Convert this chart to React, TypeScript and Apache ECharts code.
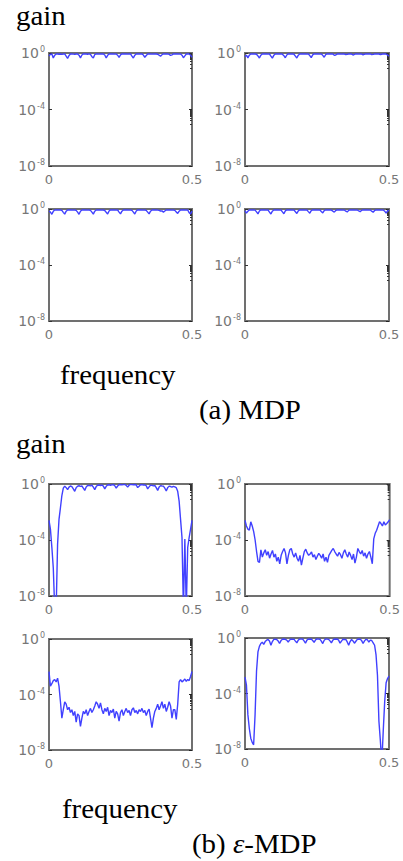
import React, { useEffect, useRef } from 'react';
import * as echarts from 'echarts';

// frequency grid (cycles/sample)
const FREQ = [
  0, 0.005, 0.01, 0.015, 0.02, 0.025, 0.03, 0.035, 0.04, 0.045,
  0.05, 0.055, 0.06, 0.065, 0.07, 0.075, 0.08, 0.085, 0.09, 0.095,
  0.1, 0.105, 0.11, 0.115, 0.12, 0.125, 0.13, 0.135, 0.14, 0.145,
  0.15, 0.155, 0.16, 0.165, 0.17, 0.175, 0.18, 0.185, 0.19, 0.195,
  0.2, 0.205, 0.21, 0.215, 0.22, 0.225, 0.23, 0.235, 0.24, 0.245,
  0.25, 0.255, 0.26, 0.265, 0.27, 0.275, 0.28, 0.285, 0.29, 0.295,
  0.3, 0.305, 0.31, 0.315, 0.32, 0.325, 0.33, 0.335, 0.34, 0.345,
  0.35, 0.355, 0.36, 0.365, 0.37, 0.375, 0.38, 0.385, 0.39, 0.395,
  0.4, 0.405, 0.41, 0.415, 0.42, 0.425, 0.43, 0.435, 0.44, 0.445,
  0.45, 0.455, 0.46, 0.465, 0.47, 0.475, 0.48, 0.485, 0.49, 0.495,
  0.5,
];

// (a) MDP — four panels
const GAIN_A_TL = [
  0.62, 0.8, 0.85, 0.45, 0.7, 0.86, 0.84, 0.82, 0.85, 0.8,
  0.84, 0.86, 0.6, 0.42, 0.66, 0.85, 0.86, 0.83, 0.8, 0.85,
  0.86, 0.7, 0.45, 0.72, 0.86, 0.84, 0.85, 0.82, 0.86, 0.8,
  0.55, 0.45, 0.78, 0.86, 0.85, 0.83, 0.86, 0.84, 0.85, 0.72,
  0.44, 0.68, 0.85, 0.86, 0.84, 0.85, 0.83, 0.86, 0.7, 0.48,
  0.74, 0.86, 0.85, 0.84, 0.86, 0.83, 0.85, 0.86, 0.6, 0.44,
  0.7, 0.85, 0.86, 0.84, 0.85, 0.86, 0.72, 0.5, 0.66, 0.84,
  0.86, 0.85, 0.83, 0.86, 0.84, 0.85, 0.82, 0.7, 0.6, 0.75,
  0.86, 0.84, 0.85, 0.86, 0.8, 0.68, 0.74, 0.86, 0.85, 0.84,
  0.86, 0.83, 0.85, 0.7, 0.46, 0.62, 0.85, 0.86, 0.84, 0.7,
  0.5,
];
const GAIN_A_TR = [
  0.55, 0.7, 0.45, 0.7, 0.85, 0.86, 0.84, 0.85, 0.82, 0.62,
  0.44, 0.7, 0.86, 0.85, 0.84, 0.86, 0.83, 0.85, 0.6, 0.43,
  0.68, 0.85, 0.86, 0.84, 0.85, 0.86, 0.83, 0.65, 0.46, 0.72,
  0.86, 0.85, 0.84, 0.86, 0.82, 0.6, 0.44, 0.7, 0.86, 0.85,
  0.84, 0.86, 0.85, 0.83, 0.86, 0.66, 0.47, 0.74, 0.86, 0.85,
  0.84, 0.86, 0.83, 0.85, 0.68, 0.5, 0.76, 0.86, 0.85, 0.84,
  0.86, 0.85, 0.7, 0.72, 0.84, 0.86, 0.85, 0.83, 0.86, 0.84,
  0.78, 0.8, 0.85, 0.86, 0.84, 0.72, 0.8, 0.86, 0.85, 0.83,
  0.86, 0.84, 0.75, 0.82, 0.86, 0.85, 0.84, 0.86, 0.76, 0.8,
  0.85, 0.86, 0.84, 0.85, 0.78, 0.82, 0.86, 0.85, 0.84, 0.72,
  0.6,
];
const GAIN_A_BL = [
  0.7, 0.6, 0.42, 0.68, 0.86, 0.85, 0.84, 0.86, 0.85, 0.8,
  0.58, 0.43, 0.7, 0.86, 0.85, 0.84, 0.86, 0.83, 0.85, 0.8,
  0.6, 0.42, 0.7, 0.86, 0.85, 0.84, 0.86, 0.83, 0.85, 0.8,
  0.6, 0.43, 0.7, 0.86, 0.85, 0.84, 0.86, 0.83, 0.85, 0.78,
  0.58, 0.44, 0.72, 0.86, 0.85, 0.84, 0.86, 0.83, 0.85, 0.6,
  0.45, 0.7, 0.86, 0.85, 0.84, 0.86, 0.83, 0.85, 0.8, 0.6,
  0.44, 0.72, 0.86, 0.85, 0.84, 0.86, 0.83, 0.85, 0.8, 0.6,
  0.45, 0.7, 0.86, 0.85, 0.84, 0.86, 0.83, 0.8, 0.72, 0.74,
  0.6, 0.72, 0.86, 0.85, 0.84, 0.86, 0.83, 0.85, 0.8, 0.62,
  0.48, 0.7, 0.86, 0.85, 0.84, 0.86, 0.83, 0.85, 0.55, 0.45,
  0.7,
];
const GAIN_A_BR = [
  0.75, 0.5, 0.7, 0.86, 0.85, 0.84, 0.86, 0.83, 0.62, 0.45,
  0.72, 0.86, 0.85, 0.84, 0.86, 0.83, 0.85, 0.6, 0.44, 0.7,
  0.86, 0.85, 0.84, 0.86, 0.83, 0.85, 0.62, 0.46, 0.74, 0.86,
  0.85, 0.84, 0.86, 0.83, 0.85, 0.64, 0.48, 0.74, 0.86, 0.85,
  0.84, 0.86, 0.83, 0.85, 0.65, 0.5, 0.76, 0.86, 0.85, 0.84,
  0.86, 0.83, 0.85, 0.66, 0.52, 0.76, 0.86, 0.85, 0.84, 0.86,
  0.83, 0.7, 0.6, 0.78, 0.86, 0.85, 0.84, 0.86, 0.83, 0.85,
  0.7, 0.62, 0.8, 0.86, 0.85, 0.84, 0.86, 0.83, 0.85, 0.72,
  0.64, 0.8, 0.86, 0.85, 0.84, 0.86, 0.83, 0.85, 0.7, 0.58,
  0.78, 0.86, 0.85, 0.84, 0.86, 0.83, 0.85, 0.7, 0.5, 0.72,
  0.8,
];

// (b) ε-MDP — four panels
const GAIN_B_TL = [
  2.5e-3, 6e-4, 3e-5, 1e-6, 1e-9, 1e-9, 5e-5, 3e-3, 2e-2, 0.15,
  0.5, 0.7, 0.55, 0.4, 0.6, 0.72, 0.65, 0.45, 0.3, 0.55,
  0.7, 0.75, 0.68, 0.72, 0.5, 0.35, 0.62, 0.78, 0.8, 0.74,
  0.82, 0.6, 0.4, 0.65, 0.82, 0.85, 0.78, 0.84, 0.7, 0.45,
  0.68, 0.85, 0.88, 0.82, 0.86, 0.9, 0.75, 0.5, 0.72, 0.88,
  0.92, 0.86, 0.9, 0.92, 0.8, 0.6, 0.82, 0.93, 0.9, 0.88,
  0.92, 0.85, 0.55, 0.7, 0.88, 0.9, 0.84, 0.86, 0.75, 0.45,
  0.62, 0.82, 0.8, 0.74, 0.78, 0.55, 0.35, 0.6, 0.76, 0.72,
  0.7, 0.5, 0.32, 0.55, 0.7, 0.66, 0.6, 0.68, 0.62, 0.55,
  0.3, 0.06, 3e-3, 1.5e-4, 1e-9, 1.2e-4, 1e-9, 3e-5, 1.5e-4, 6e-4,
  2.5e-3,
];
const GAIN_B_TR = [
  2.5e-3, 1e-3, 6e-4, 5e-4, 2e-3, 1e-3, 4e-4, 1e-4, 1.5e-5, 3e-6,
  2.5e-6, 2e-5, 6e-6, 1.2e-5, 2e-5, 8e-6, 1.5e-5, 5e-6, 1e-5, 1.8e-5,
  6e-6, 1e-5, 3e-6, 6e-6, 2e-6, 8e-6, 1.5e-5, 2.5e-5, 1.2e-5, 2e-6,
  8e-6, 2e-5, 2.5e-5, 1e-5, 6e-6, 1.2e-5, 5e-6, 3e-6, 8e-6, 1.6e-6,
  5e-6, 1.5e-5, 2.2e-5, 1.2e-5, 8e-6, 1e-5, 1.4e-5, 6e-6, 9e-6, 4e-6,
  7e-6, 1.1e-5, 8e-6, 5e-6, 1e-5, 3e-6, 6e-6, 2.5e-6, 8e-6, 1.2e-5,
  1.8e-5, 2.5e-5, 1.5e-5, 1e-5, 7e-6, 1.3e-5, 9e-6, 5e-6, 1.2e-5, 2e-5,
  1e-5, 6e-6, 1.4e-5, 8e-6, 4e-6, 1e-5, 2.2e-6, 6e-6, 2.5e-5, 1.5e-5,
  1e-5, 1.8e-5, 7e-6, 1.2e-5, 5e-6, 1e-5, 1.5e-5, 6e-6, 2e-6, 1.2e-4,
  3e-4, 5e-4, 1e-3, 2e-3, 1.5e-3, 1e-3, 2e-3, 1.2e-3, 1.5e-3, 2e-3,
  2.8e-3,
];
const GAIN_B_BL = [
  4.5e-3, 4e-4, 6e-4, 1e-3, 1.2e-3, 8e-4, 1.5e-3, 4e-4, 3e-5, 2e-6,
  8e-6, 3e-5, 2e-5, 8e-6, 1.2e-5, 5e-6, 8e-6, 3e-6, 6e-6, 1e-6,
  4e-6, 3e-6, 5e-7, 2e-6, 6e-6, 4e-6, 8e-6, 3e-6, 6e-6, 1e-5,
  5e-6, 8e-6, 1.5e-5, 3e-5, 2e-5, 1e-5, 2.5e-5, 8e-6, 4e-6, 1e-5,
  6e-6, 1.2e-5, 3e-6, 7e-6, 5e-6, 9e-6, 2e-6, 6e-6, 4e-6, 1.2e-6,
  5e-6, 8e-6, 3e-6, 6e-6, 1e-5, 5e-6, 7e-6, 3e-6, 8e-6, 1.1e-5,
  5e-6, 7e-6, 4e-6, 8e-6, 6e-6, 1e-5, 5e-6, 7e-6, 3e-6, 6e-6,
  9e-6, 2e-6, 4e-7, 2e-6, 6e-6, 1e-5, 2e-5, 8e-6, 1.5e-5, 3e-5,
  1e-5, 2e-5, 6e-6, 1.2e-5, 3e-5, 1.5e-5, 2e-6, 8e-6, 8e-6, 1.6e-6,
  2e-5, 8e-4, 1.2e-3, 8e-4, 1e-3, 1.3e-3, 9e-4, 1.2e-3, 1e-3, 2e-3,
  4.5e-3,
];
const GAIN_B_BR = [
  1.5e-3, 4e-4, 3e-6, 3e-7, 6e-8, 3e-8, 2e-8, 3e-6, 4e-3, 0.1,
  0.25, 0.4, 0.5, 0.35, 0.55, 0.7, 0.78, 0.6, 0.3, 0.55,
  0.8, 0.82, 0.78, 0.62, 0.4, 0.65, 0.82, 0.84, 0.8, 0.7,
  0.5, 0.72, 0.84, 0.8, 0.82, 0.6, 0.45, 0.7, 0.85, 0.83,
  0.84, 0.62, 0.42, 0.7, 0.84, 0.82, 0.85, 0.66, 0.48, 0.74,
  0.85, 0.83, 0.82, 0.6, 0.4, 0.68, 0.84, 0.83, 0.8, 0.62,
  0.45, 0.7, 0.84, 0.82, 0.85, 0.7, 0.42, 0.6, 0.82, 0.78,
  0.8, 0.52, 0.3, 0.55, 0.78, 0.62, 0.42, 0.58, 0.8, 0.84,
  0.82, 0.65, 0.4, 0.62, 0.8, 0.75, 0.5, 0.7, 0.66, 0.45,
  0.3, 0.06, 2e-3, 1e-6, 4e-8, 1e-9, 2e-7, 2.5e-5, 6e-4, 1.2e-3,
  1.8e-3,
];

const PANELS = [
  GAIN_A_TL, GAIN_A_TR, GAIN_A_BL, GAIN_A_BR,
  GAIN_B_TL, GAIN_B_TR, GAIN_B_BL, GAIN_B_BR,
];

const X_TICK_LABELS = ['0', '0.5'];
const Y_MIN = 1e-8;
const Y_MAX = 1;

// layout of the eight plot boxes (px)
const BOXES = [
  { left: 49, top: 53, width: 143, height: 113 },
  { left: 245, top: 53, width: 144, height: 113 },
  { left: 49, top: 209, width: 143, height: 112 },
  { left: 245, top: 209, width: 144, height: 112 },
  { left: 49, top: 484, width: 143, height: 112 },
  { left: 245, top: 484, width: 145, height: 112 },
  { left: 49, top: 639, width: 143, height: 111 },
  { left: 245, top: 638, width: 144, height: 111 },
];

const SERIF = 'Liberation Serif';
const TICK_FONT = 'DejaVu Sans';
const TICK_COLOR = '#777';
const LINE_COLOR = '#4040ff';

export default function App() {
  const ref = useRef<HTMLDivElement>(null);

  useEffect(() => {
    if (!ref.current) return;
    const chart = echarts.init(ref.current, undefined, { renderer: 'svg' });

    const grid = BOXES.map((b) => ({
      ...b,
      show: true,
      borderColor: '#707070',
      borderWidth: 2,
      backgroundColor: 'transparent',
    }));

    const xAxis = BOXES.map((_, i) => ({
      type: 'value',
      gridIndex: i,
      min: 0,
      max: 0.5,
      interval: 0.5,
      axisLine: { show: false },
      axisTick: { show: false },
      splitLine: { show: false },
      axisLabel: {
        show: true,
        margin: 7,
        color: TICK_COLOR,
        fontSize: 13,
        fontFamily: TICK_FONT,
        showMinLabel: true,
        showMaxLabel: true,
        formatter: (v: number) => (v === 0 ? X_TICK_LABELS[0] : X_TICK_LABELS[1]),
      },
    }));

    const yAxis: any[] = [];
    BOXES.forEach((_, i) => {
      yAxis.push({
        type: 'log',
        logBase: 10,
        gridIndex: i,
        min: Y_MIN,
        max: Y_MAX,
        interval: 4,
        position: 'left',
        axisLine: { show: false },
        axisTick: { show: true, inside: true, length: 3, lineStyle: { color: '#333' } },
        splitLine: { show: false },
        axisLabel: {
          margin: 4,
          color: TICK_COLOR,
          fontSize: 14,
          fontFamily: TICK_FONT,
          formatter: (v: number) => '10{s|' + Math.round(Math.log10(v)) + '}',
          rich: {
            s: {
              fontSize: 8,
              color: TICK_COLOR,
              fontFamily: TICK_FONT,
              padding: [0, 0, 7, 1],
            },
          },
        },
      });
      yAxis.push({
        type: 'log',
        logBase: 10,
        gridIndex: i,
        min: Y_MIN,
        max: Y_MAX,
        interval: 4,
        position: 'right',
        axisLine: { show: false },
        axisLabel: { show: false },
        splitLine: { show: false },
        axisTick: { show: true, inside: true, length: 3, lineStyle: { color: '#222' } },
        minorTick: { show: true, splitNumber: 12, length: 2, lineStyle: { color: '#333' } },
        minorSplitLine: { show: false },
      });
    });

    const series = PANELS.map((vals, i) => ({
      type: 'line',
      xAxisIndex: i,
      yAxisIndex: 2 * i,
      showSymbol: false,
      symbol: 'none',
      clip: true,
      lineStyle: { color: LINE_COLOR, width: 1.4 },
      data: FREQ.map((f, k) => [f, vals[k]]),
    }));

    const txt = (text: string, x: number, y: number, rich?: any) => ({
      type: 'text',
      x,
      y,
      scaleX: 1.07,
      style: {
        text,
        fontSize: 27,
        fontFamily: SERIF,
        fill: '#000',
        verticalAlign: 'top',
        ...(rich ? { rich } : {}),
      },
    });

    chart.setOption({
      animation: false,
      backgroundColor: '#fff',
      grid,
      xAxis,
      yAxis,
      series,
      graphic: [
        txt('gain', 16, 2),
        txt('frequency', 60, 361),
        txt('(a) MDP', 199, 396),
        txt('gain', 16, 430),
        txt('frequency', 62, 795),
        txt('(b) {e|ε}-MDP', 192, 830, {
          e: { fontStyle: 'italic', fontSize: 27, fontFamily: SERIF, fill: '#000' },
        }),
      ],
    });

    return () => chart.dispose();
  }, []);

  return (
    <div
      ref={ref}
      style={{ position: 'absolute', left: 0, top: 0, width: 403, height: 861 }}
    />
  );
}
